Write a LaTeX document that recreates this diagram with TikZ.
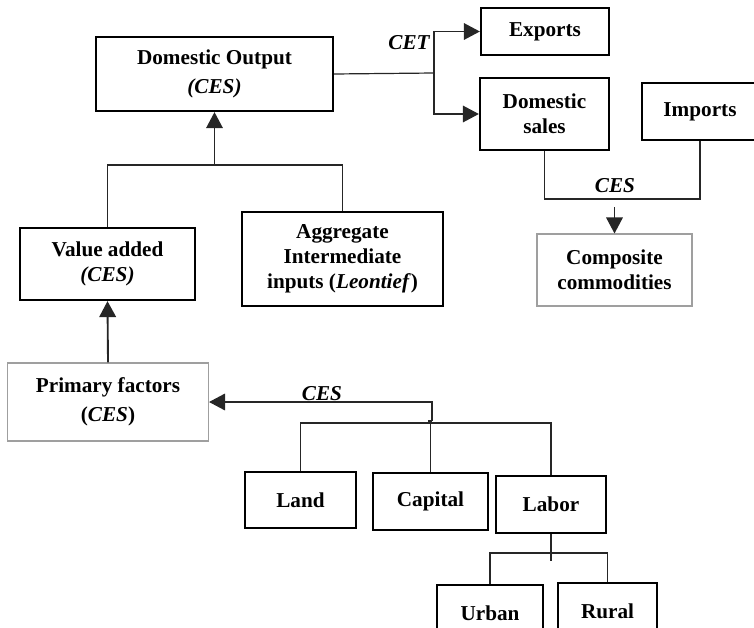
\documentclass[tikz,border=0pt]{standalone}
\usepackage{fontspec}
\setmainfont{Liberation Serif}
\usetikzlibrary{arrows.meta}

\begin{document}
\begin{tikzpicture}[x=0.75pt,y=-0.75pt,
    box/.style={draw=black, line width=1.7pt, align=center, inner sep=0pt,
        font=\fontsize{15.9}{18.8}\selectfont\bfseries},
    lightbox/.style={box, draw=gray!75, line width=0.8pt},
    link/.style={draw=black!85, line width=0.9pt},
    arr/.style={link, -{Triangle[length=12pt,width=12.5pt]}},
    rule/.style={font=\fontsize{15.9}{18.8}\selectfont\bfseries\itshape}]
    % Define pixel size
    \def\pxl{0.75pt}

    % Picture area
    \clip (0,0) rectangle (754,628);

    % Production side
    \node[box, minimum width=237*\pxl, minimum height=74*\pxl] (output) at (214.5,74) {Domestic Output\\[3pt]\textit{(CES)}};
    \node[box, minimum width=175*\pxl, minimum height=72*\pxl] (value) at (107.5,264) {Value added\\\textit{(CES)}};
    \node[box, minimum width=201*\pxl, minimum height=94*\pxl] (inter) at (342.5,259) {Aggregate\\Intermediate\\inputs (\textit{Leontief})};
    \node[lightbox, minimum width=201*\pxl, minimum height=78*\pxl] (primary) at (108,402) {Primary factors\\[3pt](\textit{CES})};

    % Trade side
    \node[box, minimum width=128*\pxl, minimum height=47*\pxl] (exports) at (545,31.5) {Exports};
    \node[box, minimum width=129*\pxl, minimum height=72*\pxl] (domsales) at (544.5,114) {Domestic\\sales};
    \node[box, minimum width=116*\pxl, minimum height=57*\pxl] (imports) at (700,111.5) {Imports};
    \node[lightbox, minimum width=155*\pxl, minimum height=72*\pxl] (composite) at (614.5,270) {Composite\\commodities};

    % Factors
    \node[box, minimum width=111*\pxl, minimum height=56*\pxl] (land) at (300.5,500) {Land};
    \node[box, minimum width=115*\pxl, minimum height=57*\pxl] (capital) at (430.5,501.5) {Capital};
    \node[box, minimum width=110*\pxl, minimum height=57*\pxl] (labor) at (551,504.5) {Labor};
    \node[box, minimum width=106*\pxl, minimum height=56*\pxl] (urban) at (490,613) {Urban};
    \node[box, minimum width=99*\pxl, minimum height=56*\pxl] (rural) at (607.5,611) {Rural};

    % Junction points
    \coordinate (cetsplit) at (434,73);
    \coordinate (outjoin) at (214.5,165);
    \coordinate (mixbar) at (700,199);
    \coordinate (mixtop) at (614.5,207);
    \coordinate (facjoin) at (432,421);
    \coordinate (factbar) at (430.5,423);
    \coordinate (labbar) at (551,553);

    % Output split (CET)
    \draw[link] (output.east) -- (cetsplit);
    \draw[arr] (cetsplit) |- (exports.west);
    \draw[arr] (cetsplit) |- (domsales.west);
    \node[rule] (cet) at (409,43) {CET};

    % Output nest
    \draw[link] (value.north) |- (outjoin) -| (inter.north);
    \draw[arr] (outjoin) -- (output.south);

    % Armington nest
    \draw[link] (domsales.south) |- (mixbar) -- (imports.south);
    \draw[arr] (mixtop) -- (composite.north);
    \node[rule] (ces1) at (615,186) {CES};

    % Value added nest
    \draw[arr, line width=1.4pt] (primary.north) -- (value.south);
    \draw[link] (land.north) |- (factbar) -| (labor.north);
    \draw[link] (capital.north) -- (factbar);
    \draw[link] (facjoin) -- ++(-4,0);
    \draw[arr] (facjoin) |- (primary.east);
    \node[rule] (ces2) at (322,394) {CES};

    % Labor nest
    \draw[link, line width=1.3pt] (labor.south) -- ++(0,27);
    \draw[link] (urban.north) |- (labbar) -| (rural.north);

\end{tikzpicture}
\end{document}
